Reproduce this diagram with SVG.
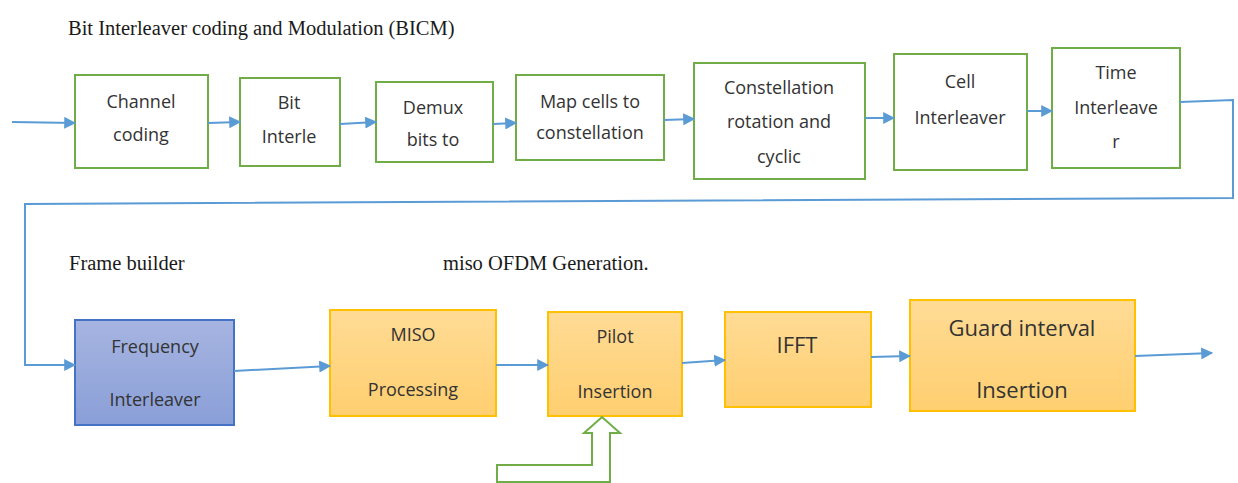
<svg xmlns="http://www.w3.org/2000/svg" width="1238" height="483" viewBox="0 0 1238 483">
  <style>
    .title { font-family: "Liberation Serif", "Times New Roman", serif; font-size: 20.5px; fill: #1a1a1a; }
    .bicm rect { fill: #ffffff; stroke: #70ad47; stroke-width: 2; }
    .ofdm rect { fill: url(#orangeFill); stroke: #ffc000; stroke-width: 2; }
    .freq rect { fill: url(#blueFill); stroke: #4472c4; stroke-width: 2; }
    .lbl { font-family: "Open Sans", "Liberation Sans", Arial, sans-serif; font-size: 18px; fill: #333333; text-anchor: middle; }
    .big { font-size: 22px; }
    .conn { fill: none; stroke: #5b9bd5; stroke-width: 2; }
  </style>
  <defs>
    <linearGradient id="orangeFill" x1="0" y1="0" x2="0" y2="1">
      <stop offset="0" stop-color="#ffdb95"/>
      <stop offset="1" stop-color="#ffcf70"/>
    </linearGradient>
    <linearGradient id="blueFill" x1="0" y1="0" x2="0" y2="1">
      <stop offset="0" stop-color="#a6b4e0"/>
      <stop offset="1" stop-color="#8a9fd8"/>
    </linearGradient>
    <marker id="arrow" viewBox="0 0 10 10" refX="9" refY="5" markerWidth="6" markerHeight="6" markerUnits="strokeWidth" orient="auto">
      <path d="M0,0 L10,5 L0,10 z" fill="#5b9bd5"/>
    </marker>
  </defs>

  <!-- section headings -->
  <text class="title" x="68" y="35">Bit Interleaver coding and Modulation (BICM)</text>
  <text class="title" x="69" y="270">Frame builder</text>
  <text class="title" x="443" y="270">miso OFDM Generation.</text>

  <!-- BICM chain -->
  <g id="channel-coding" class="bicm">
    <rect x="75" y="75" width="133" height="93"/>
    <text class="lbl" x="141" y="108">Channel</text>
    <text class="lbl" x="141" y="141">coding</text>
  </g>
  <g id="bit-interleaver" class="bicm">
    <rect x="240" y="78" width="100" height="88"/>
    <text class="lbl" x="289" y="109">Bit</text>
    <text class="lbl" x="289" y="143">Interle</text>
  </g>
  <g id="demux" class="bicm">
    <rect x="376" y="82" width="117" height="80"/>
    <text class="lbl" x="433" y="114">Demux</text>
    <text class="lbl" x="433" y="146">bits to</text>
  </g>
  <g id="map-cells" class="bicm">
    <rect x="516" y="75" width="148" height="85"/>
    <text class="lbl" x="590" y="108">Map cells to</text>
    <text class="lbl" x="590" y="139">constellation</text>
  </g>
  <g id="constellation-rotation" class="bicm">
    <rect x="694" y="63" width="171" height="116"/>
    <text class="lbl" x="779" y="94">Constellation</text>
    <text class="lbl" x="779" y="128">rotation and</text>
    <text class="lbl" x="779" y="163">cyclic</text>
  </g>
  <g id="cell-interleaver" class="bicm">
    <rect x="894" y="54" width="133" height="116"/>
    <text class="lbl" x="960" y="88">Cell</text>
    <text class="lbl" x="960" y="124">Interleaver</text>
  </g>
  <g id="time-interleaver" class="bicm">
    <rect x="1052" y="48" width="128" height="120"/>
    <text class="lbl" x="1116" y="79">Time</text>
    <text class="lbl" x="1116" y="114">Interleave</text>
    <text class="lbl" x="1116" y="148">r</text>
  </g>

  <!-- frame builder -->
  <g id="frequency-interleaver" class="freq">
    <rect x="75" y="320" width="159" height="105"/>
    <text class="lbl" x="155" y="353">Frequency</text>
    <text class="lbl" x="155" y="406">Interleaver</text>
  </g>

  <!-- OFDM generation -->
  <g id="miso-processing" class="ofdm">
    <rect x="330" y="310" width="166" height="106"/>
    <text class="lbl" x="413" y="341">MISO</text>
    <text class="lbl" x="413" y="396">Processing</text>
  </g>
  <g id="pilot-insertion" class="ofdm">
    <rect x="548" y="312" width="134" height="104"/>
    <text class="lbl" x="615" y="343">Pilot</text>
    <text class="lbl" x="615" y="398">Insertion</text>
  </g>
  <g id="ifft" class="ofdm">
    <rect x="725" y="312" width="146" height="95"/>
    <text class="lbl big" x="797" y="353">IFFT</text>
  </g>
  <g id="guard-interval" class="ofdm">
    <rect x="910" y="300" width="225" height="111"/>
    <text class="lbl big" x="1022" y="336">Guard interval</text>
    <text class="lbl big" x="1022" y="398">Insertion</text>
  </g>

  <!-- pilot input (hollow arrow) -->
  <g id="pilot-input">
    <path d="M497,465 L592,465 L592,433 L584,433 L602,417 L620,433 L610,433 L610,482 L497,482 Z" fill="#ffffff" stroke="#70ad47" stroke-width="2"/>
  </g>

  <!-- connectors -->
  <g id="connectors">
    <path class="conn" d="M12,122 L75,123" marker-end="url(#arrow)"/>
    <path class="conn" d="M208,123 L240,122" marker-end="url(#arrow)"/>
    <path class="conn" d="M340,124 L376,122" marker-end="url(#arrow)"/>
    <path class="conn" d="M493,124 L516,123" marker-end="url(#arrow)"/>
    <path class="conn" d="M664,120 L694,119" marker-end="url(#arrow)"/>
    <path class="conn" d="M865,118 L894,118" marker-end="url(#arrow)"/>
    <path class="conn" d="M1027,111 L1052,111" marker-end="url(#arrow)"/>
    <path class="conn" d="M1180,102 L1233,100 L1233,198 L25,204 L25,365 L75,365" marker-end="url(#arrow)"/>
    <path class="conn" d="M234,371 L330,366" marker-end="url(#arrow)"/>
    <path class="conn" d="M496,365 L548,365" marker-end="url(#arrow)"/>
    <path class="conn" d="M682,363 L725,360" marker-end="url(#arrow)"/>
    <path class="conn" d="M871,357 L910,356" marker-end="url(#arrow)"/>
    <path class="conn" d="M1135,356 L1212,353" marker-end="url(#arrow)"/>
  </g>
</svg>
